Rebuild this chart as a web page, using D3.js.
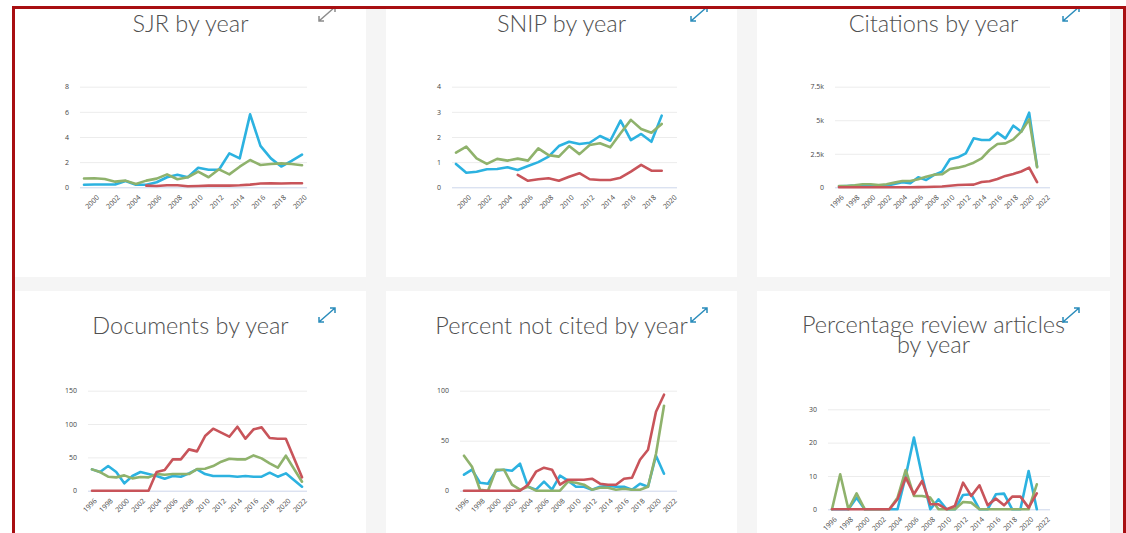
<!DOCTYPE html>
<html>
<head>
<meta charset="utf-8">
<script src="https://cdn.jsdelivr.net/npm/d3@7"></script>
<style>
  body { margin: 0; background: #fff; }
  svg { display: block; }
</style>
</head>
<body>
<script>
// years on the x axis
var yearsSjr = [1999, 2000, 2001, 2002, 2003, 2004, 2005, 2006, 2007, 2008, 2009, 2010,
    2011, 2012, 2013, 2014, 2015, 2016, 2017, 2018, 2019, 2020];
var yearsSnip = [1999, 2000, 2001, 2002, 2003, 2004, 2005, 2006, 2007, 2008, 2009, 2010,
    2011, 2012, 2013, 2014, 2015, 2016, 2017, 2018, 2019];
var yearsLong = [1996, 1997, 1998, 1999, 2000, 2001, 2002, 2003, 2004, 2005, 2006, 2007,
    2008, 2009, 2010, 2011, 2012, 2013, 2014, 2015, 2016, 2017, 2018, 2019, 2020, 2021];
var yearsDocs = [1996, 1997, 1998, 1999, 2000, 2001, 2002, 2003, 2004, 2005, 2006, 2007,
    2008, 2009, 2010, 2011, 2012, 2013, 2014, 2015, 2016, 2017, 2018, 2019, 2020, 2021, 2022];

var ticksTop = [2000, 2002, 2004, 2006, 2008, 2010, 2012, 2014, 2016, 2018, 2020];
var ticksBottom = [1996, 1998, 2000, 2002, 2004, 2006, 2008, 2010, 2012, 2014, 2016, 2018, 2020, 2022];

// SJR
var sjrBlue = [0.2, 0.22, 0.22, 0.22, 0.5, 0.2, 0.2, 0.4, 0.8, 1.0, 0.8, 1.55, 1.4, 1.4, 2.7, 2.3,
    5.8, 3.3, 2.3, 1.65, 2.1, 2.6];
var sjrGreen = [0.7, 0.72, 0.66, 0.45, 0.53, 0.26, 0.53, 0.69, 1.03, 0.64, 0.8, 1.25, 0.8, 1.43,
    1.03, 1.64, 2.17, 1.77, 1.85, 1.9, 1.85, 1.75];
var sjrRed = [null, null, null, null, null, null, 0.13, 0.1, 0.16, 0.16, 0.08, 0.1, 0.13, 0.13,
    0.13, 0.16, 0.21, 0.3, 0.32, 0.3, 0.32, 0.32];

// SNIP
var snipBlue = [0.93, 0.58, 0.62, 0.72, 0.73, 0.8, 0.69, 0.85, 1.0, 1.22, 1.64, 1.81, 1.72, 1.77,
    2.04, 1.85, 2.65, 1.88, 2.12, 1.81, 2.85];
var snipGreen = [1.38, 1.62, 1.15, 0.93, 1.13, 1.06, 1.14, 1.06, 1.55, 1.28, 1.22, 1.64, 1.32,
    1.68, 1.75, 1.59, 2.15, 2.68, 2.32, 2.17, 2.52];
var snipRed = [null, null, null, null, null, null, 0.49, 0.26, 0.32, 0.36, 0.26, 0.42, 0.56, 0.32,
    0.29, 0.29, 0.38, 0.62, 0.89, 0.66, 0.66];

// Citations
var citBlue = [75, 100, 124, 174, 75, 75, 124, 248, 372, 300, 745, 546, 919, 1167, 2086, 2235,
    2533, 3650, 3526, 3526, 4072, 3650, 4594, 4147, 5562, 1540];
var citGreen = [100, 100, 150, 223, 223, 174, 223, 348, 472, 472, 596, 795, 944, 968, 1366, 1465,
    1614, 1837, 2160, 2781, 3228, 3278, 3576, 4147, 5065, 1490];
var citRed = [0, 0, 0, 0, 0, 0, 0, 0, 2, 5, 10, 20, 40, 60, 110, 170, 190, 200, 400, 450, 620,
    850, 1000, 1180, 1470, 380];

// Documents
var docBlue = [32, 28, 37, 28, 11, 22, 28, 25, 22, 18, 22, 21, 26, 32, 25, 22, 22, 22, 21, 22,
    21, 21, 27, 21, 26, 16, 6];
var docGreen = [32, 28, 21, 20, 23, 18.5, 20.5, 20, 25, 24, 25, 25, 25, 32.5, 33, 37, 43.5, 48,
    47, 47, 53, 48.5, 41, 34.5, 52.5, 33, 13.5];
var docRed = [0, 0, 0, 0, 0, 0, 0, 0, 28, 31, 47, 47, 62, 59, 82, 93, 87, 81, 96, 78, 92, 95, 79,
    78, 78, 49, 20];

// Percent not cited
var ncBlue = [16, 21, 8, 7, 20, 21, 20, 27, 4, 1, 9, 1, 15, 10, 4, 4, 1, 4, 5, 4, 4, 1, 7, 4, 35, 17];
var ncGreen = [35, 24, 1, 0, 21, 21, 6, 1, 4, 0, 0, 0, 0, 9, 8, 6, 1, 3, 3, 1, 2, 1, 1, 4, 37, 85];
var ncRed = [0, 0, 0, 0, 0, 0, 0, 0, 6, 19, 23, 21, 6, 11, 11, 11, 12, 7, 6, 6, 12, 13, 31, 41, 79, 96];

// Percentage review articles
var revBlue = [0, 0, 0, 3.5, 0, 0, 0, 0, 0, 10, 21.5, 10, 0, 3, 0, 0, 4.3, 4.5, 0, 0, 4.5, 4.7,
    0, 0, 11.5, 0];
var revGreen = [0, 10.5, 0, 4.8, 0, 0, 0, 0, 3.5, 11.8, 4, 4, 3.5, 0, 0, 0, 2.2, 2, 0, 0, 0, 0,
    0, 0, 0, 7.5];
var revRed = [0, 0, 0, 0, 0, 0, 0, 0, 3, 9.5, 4.5, 8.5, 1.5, 1.5, 0, 1, 8, 4, 7.2, 1.2, 3.2, 1.2,
    3.8, 3.8, 0.5, 4.8];

var colors = ["#2cb2e0", "#8fb26c", "#c8545a"];

var svg = d3.select("body")
    .append("svg")
    .attr("width", 1126)
    .attr("height", 533);

// page background + grey container
svg.append("rect").attr("width", 1126).attr("height", 533).attr("fill", "#fff");
svg.append("rect").attr("x", 13).attr("y", 7).attr("width", 1113).attr("height", 526).attr("fill", "#f5f5f5");

// white cards
var cards = [
    [15, 0, 351, 277], [386, 0, 351, 277], [757, 0, 353, 277],
    [15, 291, 351, 250], [386, 291, 351, 250], [757, 291, 353, 250]
];
cards.forEach(function (c) {
    svg.append("rect").attr("x", c[0]).attr("y", c[1]).attr("width", c[2]).attr("height", c[3]).attr("fill", "#fff");
});

function fmtK(d) {
    if (d === 0) return "0";
    return (d / 1000) + "k";
}

function drawChart(cfg) {
    var g = svg.append("g");

    var x = d3.scaleLinear().domain(cfg.xDomain).range([cfg.left + 4, cfg.right - 5]);
    var y = d3.scaleLinear().domain([0, cfg.yMax]).range([cfg.bottom, cfg.top]);

    // y axis with gridlines
    var yAxis = d3.axisLeft(y)
        .tickValues(cfg.yTicks)
        .tickSize(-(cfg.right - cfg.left))
        .tickPadding(11)
        .tickFormat(cfg.yFormat || d3.format("d"));
    var ya = g.append("g")
        .attr("transform", "translate(" + cfg.left + ",0)")
        .call(yAxis);
    ya.select(".domain").remove();
    ya.selectAll("line")
        .attr("stroke", function (d) { return d === 0 ? "#ccd6eb" : "#ececec"; })
        .attr("stroke-width", 1);
    ya.selectAll("text")
        .attr("fill", "#444")
        .style("font-family", "'Open Sans', sans-serif")
        .style("font-size", "7px");

    // x axis, rotated labels
    var xAxis = d3.axisBottom(x)
        .tickValues(cfg.xTicks)
        .tickSize(0)
        .tickFormat(d3.format("d"));
    var xa = g.append("g")
        .attr("transform", "translate(0," + cfg.bottom + ")")
        .call(xAxis);
    xa.select(".domain").remove();
    xa.selectAll("text")
        .attr("x", 0)
        .attr("y", 0)
        .attr("dy", "0.35em")
        .attr("text-anchor", "end")
        .attr("transform", "translate(3,9) rotate(-45)")
        .attr("fill", "#444")
        .style("font-family", "'Open Sans', sans-serif")
        .style("font-size", "7px");

    var line = d3.line()
        .defined(function (d) { return d.v !== null; })
        .x(function (d) { return x(d.year); })
        .y(function (d) { return y(d.v); });

    cfg.series.forEach(function (vals, i) {
        var pts = vals.map(function (v, j) { return { year: cfg.years[j], v: v }; });
        g.append("path")
            .datum(pts)
            .attr("d", line)
            .attr("fill", "none")
            .attr("stroke", colors[i])
            .attr("stroke-width", 2.6)
            .attr("stroke-linejoin", "round")
            .attr("stroke-linecap", "round");
    });

    // title (one text element, wrapped lines as tspans)
    var title = svg.append("text")
        .attr("text-anchor", "middle")
        .attr("fill", "#505050")
        .style("font-family", "Lato, sans-serif")
        .style("font-weight", "300")
        .style("font-size", "23.5px");
    cfg.title.forEach(function (t, i) {
        title.append("tspan")
            .attr("x", cfg.titleX)
            .attr("y", cfg.titleY + i * 20)
            .text(t);
    });
}

drawChart({
    title: ["SJR by year"], titleX: 190.5, titleY: 32,
    years: yearsSjr, series: [sjrBlue, sjrGreen, sjrRed],
    xDomain: [1999, 2020], xTicks: ticksTop, yMax: 8, yTicks: [0, 2, 4, 6, 8],
    left: 80, right: 307, top: 86.7, bottom: 187.3
});
drawChart({
    title: ["SNIP by year"], titleX: 561.5, titleY: 32,
    years: yearsSnip, series: [snipBlue, snipGreen, snipRed],
    xDomain: [1999, 2020], xTicks: ticksTop, yMax: 4, yTicks: [0, 1, 2, 3, 4],
    left: 452, right: 677, top: 86.7, bottom: 187.3
});
drawChart({
    title: ["Citations by year"], titleX: 933.5, titleY: 32,
    years: yearsLong, series: [citBlue, citGreen, citRed],
    xDomain: [1996, 2022], xTicks: ticksBottom, yMax: 7500, yTicks: [0, 2500, 5000, 7500], yFormat: fmtK,
    left: 835, right: 1050, top: 86.7, bottom: 187.3
});
drawChart({
    title: ["Documents by year"], titleX: 190.5, titleY: 334,
    years: yearsDocs, series: [docBlue, docGreen, docRed],
    xDomain: [1996, 2022], xTicks: ticksBottom, yMax: 150, yTicks: [0, 50, 100, 150],
    left: 88, right: 307, top: 390.7, bottom: 490.7
});
drawChart({
    title: ["Percent not cited by year"], titleX: 561.5, titleY: 334,
    years: yearsLong, series: [ncBlue, ncGreen, ncRed],
    xDomain: [1996, 2022], xTicks: ticksBottom, yMax: 100, yTicks: [0, 50, 100],
    left: 460, right: 677, top: 390.7, bottom: 490.7
});
drawChart({
    title: ["Percentage review articles", "by year"], titleX: 933.5, titleY: 333,
    years: yearsLong, series: [revBlue, revGreen, revRed],
    xDomain: [1996, 2022], xTicks: ticksBottom, yMax: 30, yTicks: [0, 10, 20, 30],
    left: 828, right: 1050, top: 409.3, bottom: 509.3
});

// expand icons
function drawIcon(x0, y0, color) {
    var w = 16, h = 14, a = 5;
    svg.append("path")
        .attr("d", "M" + x0 + "," + (y0 + h) + "L" + (x0 + w) + "," + y0 +
            "M" + x0 + "," + (y0 + h - a) + "L" + x0 + "," + (y0 + h) + "L" + (x0 + a) + "," + (y0 + h) +
            "M" + (x0 + w - a) + "," + y0 + "L" + (x0 + w) + "," + y0 + "L" + (x0 + w) + "," + (y0 + a))
        .attr("fill", "none")
        .attr("stroke", color)
        .attr("stroke-width", 1.5);
}
drawIcon(319, 7, "#8c8c8c");
drawIcon(691, 7, "#2a8cbb");
drawIcon(1063, 7, "#2a8cbb");
drawIcon(319, 308, "#2a8cbb");
drawIcon(691, 308, "#2a8cbb");
drawIcon(1063, 308, "#2a8cbb");

// red frame
svg.append("path")
    .attr("d", "M13.5,533V7.5H1124.5V533")
    .attr("fill", "none")
    .attr("stroke", "#a80f12")
    .attr("stroke-width", 3);
</script>
</body>
</html>
